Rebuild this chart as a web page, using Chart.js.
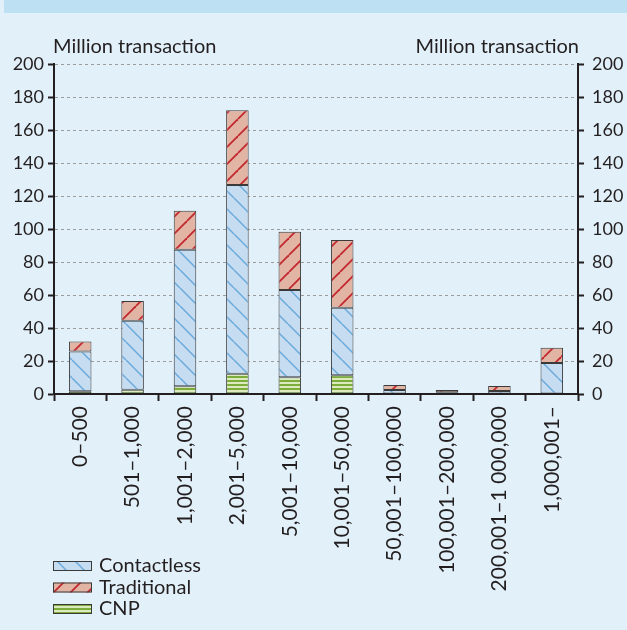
<!DOCTYPE html>
<html>
<head>
<meta charset="utf-8">
<script src="https://cdn.jsdelivr.net/npm/chart.js@4.4.1/dist/chart.umd.min.js"></script>
<style>
  html, body { margin: 0; padding: 0; background: #e2f0f9; }
  #wrap { width: 627px; height: 630px; }
</style>
</head>
<body>
<div id="wrap"><canvas id="canvasBars" width="627" height="630"></canvas></div>
<script>
// categories (transaction value bands)
var Categories = ["0\u2013500", "501\u20131,000", "1,001\u20132,000", "2,001\u20135,000", "5,001\u201310,000",
  "10,001\u201350,000", "50,001\u2013100,000", "100,001\u2013200,000", "200,001\u20131 000,000", "1,000,001\u2013"];

// million transactions, stacked bottom to top: CNP, Contactless, Traditional
var CnpData = [1.6, 2.6, 4.7, 12.3, 10.2, 11.4, 0.3, 0, 0, 0];
var ContactlessData = [24.1, 41.8, 82.8, 114.3, 52.8, 40.9, 2.1, 1.0, 1.8, 18.8];
var TraditionalData = [6.1, 11.9, 23.5, 45.4, 35.3, 41.1, 3.1, 1.4, 3.1, 9.2];

var SeriesNames = ["CNP", "Contactless", "Traditional"];
var LegendOrder = ["Contactless", "Traditional", "CNP"];
var AxisTitle = "Million transaction";
var YMax = 200;
var YStep = 20;

var TEXT = "#231f20";
Chart.defaults.font.family = "Lato";
Chart.defaults.font.size = 18;
Chart.defaults.color = TEXT;

//build a hatch pattern for the bars
function makePattern(bg, stroke, lineW, size, kind)
{
  var c = document.createElement("canvas");
  c.width = size;
  c.height = size;
  var g = c.getContext("2d");
  g.fillStyle = bg;
  g.fillRect(0, 0, size, size);
  if (kind === "h") {
    g.fillStyle = stroke;
    g.fillRect(0, 0, size, size / 2);
  } else {
    g.strokeStyle = stroke;
    g.lineWidth = lineW;
    for (var k = -1; k <= 1; k++) {
      g.beginPath();
      if (kind === "back") {
        g.moveTo(k * size, 0);
        g.lineTo(k * size + size, size);
      } else {
        g.moveTo(k * size, size);
        g.lineTo(k * size + size, 0);
      }
      g.stroke();
    }
  }
  return g.createPattern(c, "repeat");
}

var fills = {
  "CNP": makePattern("#dcebbd", "#7dac3b", 0, 4, "h"),
  "Contactless": makePattern("#c6dcf0", "#6aaadd", 1.5, 18, "back"),
  "Traditional": makePattern("#e2b4a4", "#c1272d", 1.8, 17, "fwd")
};
var seriesData = { "CNP": CnpData, "Contactless": ContactlessData, "Traditional": TraditionalData };

//background and top band
var backgroundPlugin = {
  id: "bg",
  beforeDraw: function(chart) {
    var ctx = chart.ctx;
    ctx.save();
    ctx.fillStyle = "#e2f0f9";
    ctx.fillRect(0, 0, chart.width, chart.height);
    ctx.fillStyle = "#bde0f2";
    ctx.fillRect(4, 0, chart.width - 4, 13);
    ctx.restore();
  }
};

//unit labels above both axes + vertical legend
var textPlugin = {
  id: "extras",
  afterDraw: function(chart) {
    var ctx = chart.ctx;
    var area = chart.chartArea;
    ctx.save();
    ctx.font = "20px Lato";
    ctx.fillStyle = TEXT;
    ctx.textBaseline = "middle";
    ctx.textAlign = "left";
    ctx.fillText(AxisTitle, area.left - 1, area.top - 17);
    ctx.textAlign = "right";
    ctx.fillText(AxisTitle, area.right + 1, area.top - 17);

    ctx.textAlign = "left";
    for (var i = 0; i < LegendOrder.length; i++) {
      var name = LegendOrder[i];
      var y = 561 + i * 21.5;
      ctx.fillStyle = fills[name];
      ctx.fillRect(area.left - 1, y, 39, 10);
      ctx.strokeStyle = "#3a3a3a";
      ctx.lineWidth = 1;
      ctx.strokeRect(area.left - 0.5, y + 0.5, 38, 9);
      ctx.fillStyle = TEXT;
      ctx.fillText(name, area.left + 45, y + 5);
    }
    ctx.restore();
  }
};

var datasets = [];
for (var s = 0; s < SeriesNames.length; s++) {
  datasets.push({
    label: SeriesNames[s],
    data: seriesData[SeriesNames[s]],
    backgroundColor: fills[SeriesNames[s]],
    borderColor: "#3a3a3a",
    borderWidth: 1,
    borderSkipped: false,
    categoryPercentage: 1,
    barPercentage: 0.43,
    yAxisID: "y"
  });
}

var ctx = document.getElementById("canvasBars").getContext("2d");
window.myBar = new Chart(ctx, {
  type: "bar",
  data: { labels: Categories, datasets: datasets },
  plugins: [backgroundPlugin, textPlugin],
  options: {
    responsive: false,
    devicePixelRatio: 1,
    animation: false,
    layout: { padding: { top: 64, left: 0, right: 0, bottom: 0 } },
    plugins: { legend: { display: false }, tooltip: { enabled: false } },
    scales: {
      x: {
        stacked: true,
        grid: { display: true, offset: true, drawOnChartArea: false, drawTicks: true,
          tickLength: 7, tickColor: "#231f20", tickWidth: 2 },
        border: { display: true, color: "#231f20", width: 2, z: 1 },
        ticks: { minRotation: 90, maxRotation: 90, padding: 5, autoSkip: false, font: { size: 21 } },
        afterFit: function(scale) { scale.height = 236; }
      },
      y: {
        stacked: true,
        position: "left",
        min: 0,
        max: YMax,
        ticks: { stepSize: YStep, padding: 4 },
        grid: { color: "#9b9b9b", lineWidth: 1, tickLength: 6, tickColor: "#231f20", tickWidth: 2 },
        border: { display: true, color: "#231f20", width: 2, dash: [3, 3], z: 1 },
        afterFit: function(scale) { scale.width = 54; }
      },
      y2: {
        position: "right",
        min: 0,
        max: YMax,
        ticks: { stepSize: YStep, padding: 8 },
        grid: { drawOnChartArea: false, tickLength: 6, tickColor: "#231f20", tickWidth: 2 },
        border: { display: true, color: "#231f20", width: 2, z: 1 },
        afterFit: function(scale) { scale.width = 49; }
      }
    }
  }
});
</script>
</body>
</html>
